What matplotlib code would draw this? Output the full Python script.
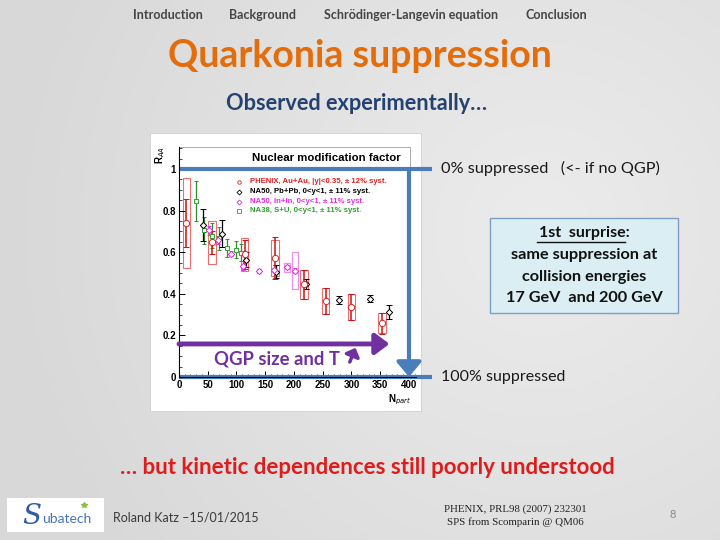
import matplotlib
matplotlib.use('Agg')
import matplotlib.pyplot as plt
from matplotlib.patches import Rectangle
from matplotlib.ticker import MultipleLocator
import numpy as np

# PHENIX Au+Au, |y|<0.35
phenix_npart = [13, 57, 114, 167, 217, 255, 300, 353]
phenix_raa = [0.74, 0.648, 0.59, 0.573, 0.445, 0.365, 0.335, 0.258]
phenix_stat = [0.116, 0.055, 0.07, 0.1, 0.068, 0.062, 0.062, 0.05]
phenix_syst = [0.216, 0.104, 0.08, 0.088, 0.068, 0.062, 0.062, 0.048]

# NA50 Pb+Pb, 0<y<1
pbpb_npart = [42, 75, 117, 169, 221, 278, 332, 366]
pbpb_raa = [0.731, 0.69, 0.565, 0.507, 0.448, 0.371, 0.377, 0.313]
pbpb_err = [0.077, 0.064, 0.036, 0.032, 0.024, 0.018, 0.018, 0.034]

# NA50 In+In, 0<y<1
inin_npart = [52, 68, 90, 112, 140, 165, 188, 202]
inin_raa = [0.705, 0.658, 0.592, 0.535, 0.51, 0.515, 0.528, 0.512]
inin_err = [0.02, 0.02, 0.012, 0.022, 0.01, 0.01, 0.01, 0.01]
inin_syst = [0, 0, 0, 0, 0, 0, 0.022, 0.088]

# NA38 S+U, 0<y<1
su_npart = [30, 44, 57, 70, 83, 99, 108]
su_raa = [0.845, 0.705, 0.68, 0.668, 0.62, 0.613, 0.598]
su_err = [0.097, 0.066, 0.06, 0.055, 0.045, 0.04, 0.04]

legend_labels = ['PHENIX, Au+Au, |y|<0.35, \u00b1 12% syst.',
                 'NA50, Pb+Pb, 0<y<1, \u00b1 11% syst.',
                 'NA50, In+In, 0<y<1, \u00b1 11% syst.',
                 'NA38, S+U, 0<y<1, \u00b1 11% syst.']
legend_colors = ['#e02020', 'black', '#e030e0', '#30a030']
legend_markers = ['o', 'D', 'D', 's']
legend_y = [0.94, 0.89, 0.843, 0.80]

yticks = [0, 0.2, 0.4, 0.6, 0.8, 1]
ytick_labels = ['0', '0.2', '0.4', '0.6', '0.8', '1']
xticks = [0, 50, 100, 150, 200, 250, 300, 350, 400]

nav_items = ['Introduction', 'Background', 'Schr\u00f6dinger-Langevin equation', 'Conclusion']
nav_x = [168, 263, 411, 556]
box_lines = ['same suppression at', 'collision energies', '17 GeV  and 200 GeV']

W, H = 720, 540
fig = plt.figure(figsize=(7.2, 5.4), dpi=100)

# slide background (pixel coordinates)
bg = fig.add_axes([0, 0, 1, 1], zorder=0)
bg.set_xlim(0, W)
bg.set_ylim(H, 0)
bg.axis('off')
gx, gy = np.meshgrid(np.arange(W), np.arange(H))
dist = np.sqrt((gx - 540) ** 2 + (gy - 230) ** 2)
shade = 0.925 - 0.075 * np.clip(dist / 520, 0, 1)
bg.imshow(np.dstack([shade] * 3), extent=(0, W, H, 0), aspect='auto')

font = 'Lato'
for name, x in zip(nav_items, nav_x):
    bg.text(x, 15, name, ha='center', va='center', fontsize=9,
            fontweight='bold', color='#454545', family=font)
bg.text(360, 56, 'Quarkonia suppression', ha='center', va='center',
        fontsize=27, fontweight='bold', color='#e46c0a', family=font)
bg.text(357, 104, 'Observed experimentally\u2026', ha='center', va='center',
        fontsize=15.7, fontweight='bold', color='#244170', family=font)
bg.text(367, 467, '\u2026 but kinetic dependences still poorly understood',
        ha='center', va='center', fontsize=16, fontweight='bold',
        color='#df1c1c', family=font)

# picture of the figure
bg.add_patch(Rectangle((150, 133), 271, 278, fc='white', ec='#d0d0d0', lw=0.6))

bg.text(441, 168, '0% suppressed   (<- if no QGP)', ha='left', va='center',
        fontsize=11.7, color='#1a1a1a', family=font)
bg.text(441, 377, '100% suppressed', ha='left', va='center',
        fontsize=11.5, color='#1a1a1a', family=font)

# text box
bg.add_patch(Rectangle((490, 218), 188, 95, fc='#dbeef4', ec='#7b9fc6', lw=1))
bg.text(584, 233, '1st  surprise:', ha='center', va='center', fontsize=11.5,
        fontweight='bold', color='#111111', family=font)
bg.plot([537, 625], [241.5, 241.5], color='#111111', lw=1)
for i, line in enumerate(box_lines):
    bg.text(584, 255 + i * 21.5, line, ha='center', va='center',
            fontsize=11.7, fontweight='bold', color='#111111', family=font)

# footer
bg.add_patch(Rectangle((7, 498), 97, 34, fc='white', ec='none'))
bg.text(32, 517, 'S', ha='center', va='center', fontsize=20, color='#2d5aa8',
        family='DejaVu Serif', fontstyle='italic')
bg.text(42, 519, 'ubatech', ha='left', va='center', fontsize=10,
        color='#4a74b8', family=font)
bg.plot([84], [505], marker='*', color='#8fbf3f', ms=4)
bg.text(113, 517, 'Roland Katz \u201315/01/2015', ha='left', va='center',
        fontsize=9, color='#3a3a3a', family=font)
bg.text(515, 509, 'PHENIX, PRL98 (2007) 232301', ha='center', va='center',
        fontsize=7.8, color='#222222', family='Liberation Serif')
bg.text(515, 522, 'SPS from Scomparin @ QM06', ha='center', va='center',
        fontsize=7.8, color='#222222', family='Liberation Serif')
bg.text(673, 514, '8', ha='center', va='center', fontsize=8,
        color='#8a8a8a', family=font)

# the R_AA plot
ax = fig.add_axes([179 / W, (H - 377) / H, (416 - 179) / W, (377 - 147) / H], zorder=1)
ax.patch.set_alpha(0)
ax.set_xlim(0, 412.2)
ax.set_ylim(0, 1.106)
for s in ['top', 'right']:
    ax.spines[s].set_visible(False)
for s in ['left', 'bottom']:
    ax.spines[s].set_linewidth(0.8)
ax.set_yticks(yticks)
ax.set_yticklabels(ytick_labels)
ax.set_xticks(xticks)
ax.xaxis.set_minor_locator(MultipleLocator(10))
ax.yaxis.set_minor_locator(MultipleLocator(0.05))
ax.tick_params(direction='in', length=4, width=0.7, labelsize=7, pad=2)
ax.tick_params(which='minor', direction='in', length=2, width=0.5)
for lab in ax.get_xticklabels() + ax.get_yticklabels():
    lab.set_fontweight('bold')
    lab.set_family('Liberation Sans')

red = '#e02020'
for x, y, s in zip(phenix_npart, phenix_raa, phenix_syst):
    ax.add_patch(Rectangle((x - 6.5, y - s), 13, 2 * s, fill=False,
                           ec='#e87070', lw=0.8))
for x, y, s in zip(inin_npart, inin_raa, inin_syst):
    if s > 0:
        ax.add_patch(Rectangle((x - 5, y - s), 10, 2 * s, fill=False,
                               ec='#e890e8', lw=0.9))

ax.errorbar(su_npart, su_raa, yerr=su_err, fmt='s', ms=3.5, mfc='white',
            mec='#30a030', mew=0.7, ecolor='#2f8f2f', elinewidth=0.9, capsize=1.5)
ax.errorbar(pbpb_npart, pbpb_raa, yerr=pbpb_err, fmt='D', ms=3.2, mfc='white',
            mec='black', mew=0.7, ecolor='black', elinewidth=0.9, capsize=2)
ax.errorbar(inin_npart, inin_raa, yerr=inin_err, fmt='D', ms=3.2, mfc='white',
            mec='#e030e0', mew=0.7, ecolor='#e030e0', elinewidth=0.9, capsize=1.5)
ax.errorbar(phenix_npart, phenix_raa, yerr=phenix_stat, fmt='o', ms=4.5, mfc='white',
            mec=red, mew=0.7, ecolor='#d01010', elinewidth=1.1, capsize=2.5)

# title box and legend
ax.add_patch(Rectangle((0, 1.0), 402, 0.105, fill=False, ec='#a0a0a0', lw=0.6,
                       clip_on=False))
ax.text(257, 1.053, 'Nuclear modification factor', ha='center', va='center',
        fontsize=8.2, fontweight='bold', family='Liberation Sans')
for lab, c, m, y in zip(legend_labels, legend_colors, legend_markers, legend_y):
    ax.plot([104], [y], marker=m, ms=2.5, mfc='white', mec=c, mew=0.6)
    ax.text(124, y, lab, ha='left', va='center', fontsize=5.6, color=c,
            fontweight='bold', family='Liberation Sans')

ax.text(-33, 1.067, 'R$_{AA}$', rotation=90, ha='center', va='center',
        fontsize=7, fontweight='bold', family='Liberation Sans')
ax.text(384, -0.11, 'N$_{part}$', ha='center', va='center',
        fontsize=7, fontweight='bold', family='Liberation Sans')

# slide annotations on top of the plot
blue = '#4a7ebb'
purple = '#7030a0'
ax.plot([0, 440], [1, 1], color=blue, lw=3, clip_on=False, solid_capstyle='butt')
ax.plot([0, 440], [0, 0], color=blue, lw=3, clip_on=False, solid_capstyle='butt')
ax.annotate('', xy=(400, 0.0), xytext=(400, 1.0), annotation_clip=False,
            arrowprops=dict(arrowstyle='-|>,head_length=0.6,head_width=0.5',
                            color=blue, lw=3, shrinkA=0, shrinkB=0, mutation_scale=15))
ax.annotate('', xy=(366, 0.159), xytext=(0, 0.159), annotation_clip=False,
            arrowprops=dict(arrowstyle='-|>,head_length=0.6,head_width=0.45',
                            color=purple, lw=3.5, shrinkA=0, shrinkB=0, mutation_scale=14))
ax.text(61, 0.087, 'QGP size and T', ha='left', va='center', fontsize=13.3,
        fontweight='bold', color=purple, family=font)
ax.annotate('', xy=(307, 0.14), xytext=(297, 0.072), annotation_clip=False,
            arrowprops=dict(arrowstyle='-|>,head_length=0.5,head_width=0.5',
                            color=purple, lw=2.5, shrinkA=0, shrinkB=0, mutation_scale=9))

fig.savefig('out.png', dpi=100)
